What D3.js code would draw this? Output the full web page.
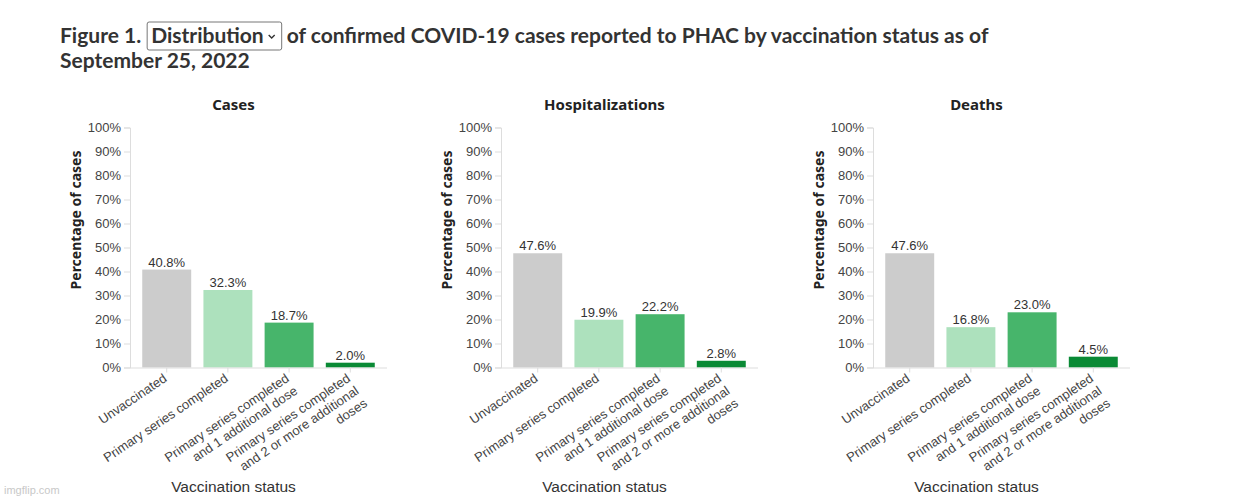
<!DOCTYPE html>
<html>
<head>
<meta charset="utf-8">
<script src="https://cdn.jsdelivr.net/npm/d3@7"></script>
<style>
  html, body { margin: 0; padding: 0; background: #fff; }
  svg { display: block; }
</style>
</head>
<body>
<svg id="chart" width="1257" height="499"></svg>
<script>
// ---- data ----
const categories = [
  "Unvaccinated",
  "Primary series completed",
  "Primary series completed and 1 additional dose",
  "Primary series completed and 2 or more additional doses"
];
const categoryLines = [
  ["Unvaccinated"],
  ["Primary series completed"],
  ["Primary series completed", "and 1 additional dose"],
  ["Primary series completed", "and 2 or more additional", "doses"]
];
const panelTitles = ["Cases", "Hospitalizations", "Deaths"];
const casesValues = [40.8, 32.3, 18.7, 2.0];
const hospitalizationValues = [47.6, 19.9, 22.2, 2.8];
const deathValues = [47.6, 16.8, 23.0, 4.5];
const yTickValues = [0, 10, 20, 30, 40, 50, 60, 70, 80, 90, 100];
const barColors = ["#cccccc", "#ade1bd", "#47b56b", "#0a8a35"];

const seriesList = [casesValues, hospitalizationValues, deathValues];

const svg = d3.select("#chart");

// ---- page title ----
const titleFont = "Lato, 'Noto Sans', sans-serif";
const tSize = "21px";
const t1 = svg.append("text").attr("x", 60).attr("y", 43)
  .style("font-family", titleFont).style("font-size", tSize).style("font-weight", "bold")
  .style("fill", "#333").text("Figure 1.");
const w1 = t1.node().getComputedTextLength();
const boxX = 60 + w1 + 6;
const selText = svg.append("text").attr("x", boxX + 4).attr("y", 43)
  .style("font-family", titleFont).style("font-size", tSize).style("font-weight", "bold")
  .style("fill", "#333").text("Distribution");
const ws = selText.node().getComputedTextLength();
const boxW = ws + 22;
svg.insert("rect", "text").attr("x", boxX).attr("y", 22).attr("width", boxW).attr("height", 28)
  .attr("rx", 2).attr("fill", "#fff").attr("stroke", "#777").attr("stroke-width", 1);
// chevron
const cx = boxX + ws + 12, cy = 37;
svg.append("path").attr("d", `M${cx-3},${cy-2} L${cx},${cy+1} L${cx+3},${cy-2}`)
  .attr("fill", "none").attr("stroke", "#333").attr("stroke-width", 1.4);
svg.append("text").attr("x", boxX + boxW + 5).attr("y", 43)
  .style("font-family", titleFont).style("font-size", tSize).style("font-weight", "bold")
  .style("fill", "#333").text("of confirmed COVID-19 cases reported to PHAC by vaccination status as of");
svg.append("text").attr("x", 60).attr("y", 68)
  .style("font-family", titleFont).style("font-size", tSize).style("font-weight", "bold")
  .style("fill", "#333").text("September 25, 2022");

// ---- panels ----
const panelLeft = [130, 501, 873];
const plotW = 257;
const yTop = 127.5, yBottom = 367.5;

const y = d3.scaleLinear().domain([0, 100]).range([yBottom, yTop]);

const axisFont = "Arial, 'Liberation Sans', sans-serif";

seriesList.forEach((vals, p) => {
  const left = panelLeft[p];
  const g = svg.append("g");
  const x = d3.scaleBand().domain(categories).range([left, left + plotW])
    .paddingInner(0.2).paddingOuter(0.2);

  // title
  g.append("text").attr("x", left + plotW / 2 - 25).attr("y", 110)
    .attr("text-anchor", "middle")
    .style("font-family", "'Noto Sans', sans-serif").style("font-weight", "bold")
    .style("font-size", "15px").style("fill", "#222").text(panelTitles[p]);

  // y axis
  const yAxis = g.append("g").attr("transform", `translate(${left},0)`)
    .call(d3.axisLeft(y).tickValues(yTickValues).tickFormat(d => d + "%").tickSize(6).tickPadding(3));
  yAxis.selectAll("path, line").attr("stroke", "#ddd");
  yAxis.selectAll("text").style("font-family", axisFont).style("font-size", "13px").style("fill", "#444");

  // y axis title
  g.append("text")
    .attr("transform", `translate(${left - 49},220) rotate(-90)`)
    .attr("text-anchor", "middle")
    .style("font-family", "'Noto Sans', sans-serif").style("font-weight", "bold")
    .style("font-size", "14px").style("fill", "#222").text("Percentage of cases");

  // bars
  g.selectAll("rect.bar").data(vals).join("rect").attr("class", "bar")
    .attr("x", (d, i) => x(categories[i]))
    .attr("width", x.bandwidth())
    .attr("y", d => y(d))
    .attr("height", d => yBottom - y(d))
    .attr("fill", (d, i) => barColors[i]);

  // value labels
  g.selectAll("text.val").data(vals).join("text").attr("class", "val")
    .attr("x", (d, i) => x(categories[i]) + x.bandwidth() / 2)
    .attr("y", d => y(d) - 3)
    .attr("text-anchor", "middle")
    .style("font-family", axisFont).style("font-size", "13px").style("fill", "#333")
    .text(d => d.toFixed(1) + "%");

  // x axis
  const xAxis = g.append("g").attr("transform", `translate(0,${yBottom})`)
    .call(d3.axisBottom(x).tickSize(5).tickSizeOuter(0).tickFormat(""));
  xAxis.selectAll("path, line").attr("stroke", "#ddd");
  xAxis.select("path.domain").attr("d", `M${left},0.5H${left + plotW}`);

  // x labels (rotated, multi-line)
  categories.forEach((c, i) => {
    const cxp = x(c) + x.bandwidth() / 2 + 1;
    const lab = g.append("text")
      .attr("transform", `translate(${cxp},${yBottom + 13}) rotate(-34)`)
      .attr("text-anchor", "end")
      .style("font-family", axisFont).style("font-size", "13px").style("fill", "#444");
    categoryLines[i].forEach((line, k) => {
      lab.append("tspan").attr("x", 0).attr("y", k * 15).text(line);
    });
  });

  // x axis title
  g.append("text").attr("x", left + plotW / 2 - 25).attr("y", 492)
    .attr("text-anchor", "middle")
    .style("font-family", axisFont).style("font-size", "15.5px").style("fill", "#333")
    .text("Vaccination status");
});

// watermark
svg.append("text").attr("x", 4).attr("y", 494)
  .style("font-family", axisFont).style("font-size", "11px").style("fill", "#c8c8c8")
  .text("imgflip.com");
</script>
</body>
</html>
